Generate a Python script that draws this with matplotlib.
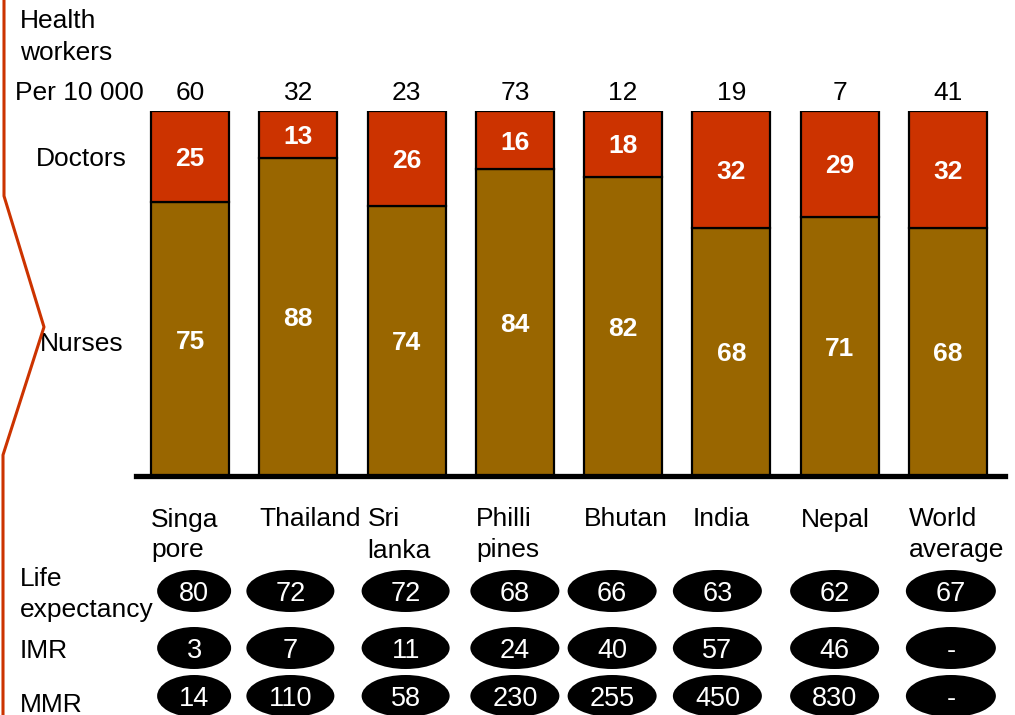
import numpy as np
import matplotlib
matplotlib.use('Agg')
import matplotlib.pyplot as plt
from matplotlib.patches import Ellipse
from matplotlib.lines import Line2D

plt.rcParams['font.family'] = ['Liberation Sans', 'DejaVu Sans']

countries = ['Singa\npore', 'Thailand', 'Sri\nlanka', 'Philli\npines',
             'Bhutan', 'India', 'Nepal', 'World\naverage']
per_10000 = [60, 32, 23, 73, 12, 19, 7, 41]
doctors = np.array([25, 13, 26, 16, 18, 32, 29, 32])
nurses = np.array([75, 88, 74, 84, 82, 68, 71, 68])
life_exp = ['80', '72', '72', '68', '66', '63', '62', '67']
imr = ['3', '7', '11', '24', '40', '57', '46', '-']
mmr = ['14', '110', '58', '230', '255', '450', '830', '-']

doc_color = '#CC3300'
nurse_color = '#996600'

W, H = 1015, 715
fig = plt.figure(figsize=(W / 100, H / 100), dpi=100)


def fx(px):
    return px / W


def fy(py):
    return 1 - py / H


# bar area: baseline at y=476px, top of bars at 111px, one category = 108.25px
ax = fig.add_axes([fx(136), fy(476), (1005 - 136) / W, (476 - 111) / H])
step = 108.25
ax.set_xlim(-0.5, -0.5 + 869 / step)
ax.set_ylim(0, 100)
ax.axis('off')


def dy(py):
    return (476 - py) * 100 / 365


x = np.arange(len(countries))
total = doctors + nurses
nurse_pct = nurses / total * 100
doc_pct = doctors / total * 100
bw = 0.72

ax.bar(x, nurse_pct, width=bw, color=nurse_color, edgecolor='black', lw=1.6)
ax.bar(x, doc_pct, bottom=nurse_pct, width=bw, color=doc_color,
       edgecolor='black', lw=1.6)
ax.axhline(0, color='black', lw=3.8, clip_on=False, zorder=5)

for i in x:
    ax.text(i, nurse_pct[i] / 2, str(nurses[i]), ha='center',
            va='center_baseline', color='white', fontsize=19, fontweight='bold')
    ax.text(i, nurse_pct[i] + doc_pct[i] / 2, str(doctors[i]), ha='center',
            va='center_baseline', color='white', fontsize=19, fontweight='bold')
    ax.text(i, dy(90), str(per_10000[i]), ha='center', va='center_baseline',
            fontsize=19, clip_on=False)
    for j, line in enumerate(countries[i].split('\n')):
        ax.text(i - bw / 2, dy(517 + 31 * j), line, ha='left',
                va='center_baseline', fontsize=19, clip_on=False)

# indicator ellipses
nudge = [4, -8, -1, 0, -11, -14, -5, 3]
ew = [74, 88, 88, 89, 89, 89, 89, 90]
rows = [(life_exp, 591), (imr, 648), (mmr, 696)]
for vals, py in rows:
    for i in x:
        cx = i + nudge[i] / step
        ax.add_patch(Ellipse((cx, dy(py)), ew[i] / step, 42 * 100 / 365,
                             facecolor='black', edgecolor='none', clip_on=False))
        ax.text(cx, dy(py), vals[i], ha='center', va='center_baseline',
                color='white', fontsize=19.5, clip_on=False)

# left side labels
left_labels = [('Health', 20, 18), ('workers', 20, 50), ('Per 10 000', 15, 90),
               ('Doctors', 36, 157), ('Nurses', 40, 341),
               ('Life', 20, 577), ('expectancy', 20, 608),
               ('IMR', 20, 649), ('MMR', 20, 702)]
for txt, px, py in left_labels:
    fig.text(fx(px), fy(py), txt, ha='left', va='center_baseline', fontsize=19)

# orange bracket on the left edge
fig.add_artist(Line2D([fx(4), fx(4), fx(44), fx(3), fx(3)],
                      [fy(-5), fy(196), fy(327), fy(455), fy(720)],
                      color=doc_color, lw=2.2, transform=fig.transFigure,
                      zorder=10))

fig.savefig('out.png', dpi=100)
